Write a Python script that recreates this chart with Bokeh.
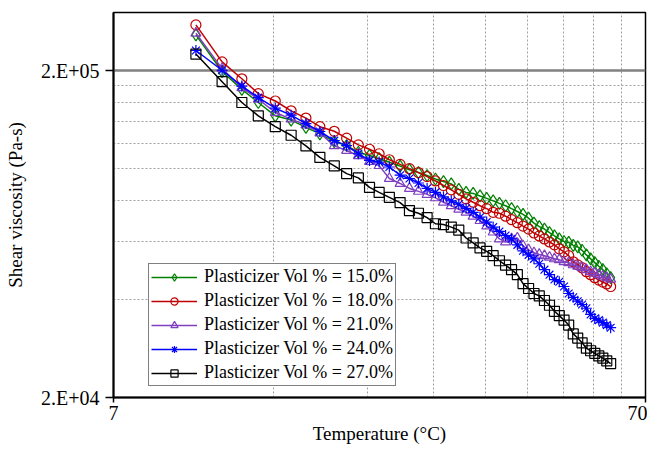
from bokeh.plotting import figure
from bokeh.models import FixedTicker, Range1d, Legend, LegendItem
from bokeh.embed import file_html
from bokeh.resources import INLINE

# ---- data ----
temperature = [10.0, 11.2, 12.2, 13.1, 14.1, 15.1, 16.1, 17.1, 18.2, 19.2, 20.2, 21.2,
               22.1, 23.1, 24.2, 25.2, 26.2, 27.2, 28.2, 29.2, 30.2, 31.2, 32.2, 33.2,
               34.2, 35.2, 36.2, 37.2, 38.2, 39.2, 40.2, 41.2, 42.2, 43.2, 44.2, 45.2,
               46.2, 47.2, 48.2, 49.2, 50.2, 51.2, 52.2, 53.2, 54.2, 55.2, 56.2, 57.2,
               58.2, 59.2, 60.2]

visc_15 = [257200, 198600, 175200, 159700, 145400, 141100, 134100, 128000, 121300, 117900,
           112500, 110000, 107500, 104900, 102000, 99500, 97500, 95500, 93200, 91500,
           90000, 86600, 84800, 84200, 82700, 81300, 79900, 78500, 77200, 75600,
           74100, 72600, 70700, 68300, 66600, 65500, 63900, 62400, 61100, 60000,
           59600, 58400, 57800, 56400, 54600, 53100, 51700, 50400, 49200, 47800, 46500]

visc_18 = [275800, 212500, 188700, 170000, 161400, 150600, 143100, 134700, 130400, 124200,
           118500, 114900, 111300, 106700, 103300, 100200, 97500, 94800, 91900, 89000,
           86300, 83600, 81000, 79100, 77200, 75600, 73700, 73200, 71700, 70000,
           68500, 66900, 65500, 63700, 62400, 61100, 59800, 58600, 57000, 55800,
           54300, 52000, 50900, 49900, 48500, 47500, 46500, 45700, 45100, 44500, 43700]

visc_21 = [260200, 202800, 177300, 163400, 148900, 142100, 136300, 128900, 117700, 113900,
           109800, 105300, 102400, 93500, 90300, 87200, 85400, 83600, 81600, 79100,
           77200, 75300, 73700, 71700, 69500, 66900, 64100, 61100, 59800, 61100,
           61500, 58200, 56600, 55400, 54800, 54300, 53700, 53100, 52800, 52000,
           51700, 50900, 50400, 49900, 49200, 48500, 48000, 47500, 47000, 46500, 46000]

visc_24 = [230300, 200400, 179300, 165300, 153400, 146100, 137700, 130200, 122100, 117900,
           111300, 106200, 105000, 101400, 95700, 93500, 90600, 87200, 84800, 82200,
           79900, 78000, 75800, 73700, 71200, 68800, 66400, 64400, 62600, 61100,
           58600, 56200, 54600, 53100, 51300, 49200, 47500, 45900, 45200, 43700,
           41600, 40500, 39400, 38500, 37500, 35900, 34900, 34500, 33900, 33300, 32700]

visc_27 = [224600, 184900, 159700, 145400, 134700, 126800, 117700, 108500, 102200, 96800,
           93900, 87800, 84800, 81900, 78900, 74600, 73200, 71000, 68000, 67600,
           66400, 65000, 61500, 59400, 57400, 56000, 54300, 52400, 50800, 49200,
           47500, 44600, 43100, 41600, 40900, 39600, 38300, 36700, 35600, 34500,
           33300, 31300, 30400, 29400, 28300, 27800, 27300, 26800, 26400, 25900, 25400]

series_labels = ["Plasticizer Vol % = 15.0%", "Plasticizer Vol % = 18.0%",
                 "Plasticizer Vol % = 21.0%", "Plasticizer Vol % = 24.0%",
                 "Plasticizer Vol % = 27.0%"]

x_major_ticks = [7, 70]
x_minor_ticks = [14, 21, 28, 35, 42, 49, 56, 63]
y_major_ticks = [20000, 200000]
y_minor_ticks = [40000, 60000, 80000, 100000, 120000, 140000, 160000, 180000]
x_tick_labels = {7: "7", 70: "70"}
y_tick_labels = {20000: "2.E+04", 200000: "2.E+05"}

# ---- styles ----
colors = ["#008000", "#C00000", "#7F3FBF", "#0000FF", "#000000"]
markers = ["diamond", "circle", "triangle", "asterisk", "square"]
sizes = [12, 10, 10, 11, 10]
FONT = "'Liberation Serif', 'DejaVu Serif', serif"

p = figure(width=647, height=447, x_axis_type="log", y_axis_type="log",
           x_range=Range1d(7, 70), y_range=Range1d(20000, 301000),
           output_backend="svg", toolbar_location=None,
           min_border_left=113, min_border_right=2, min_border_top=12, min_border_bottom=50)

p.background_fill_color = "white"
p.border_fill_color = "white"
p.outline_line_color = "black"
p.outline_line_width = 1.5

p.xaxis.ticker = FixedTicker(ticks=x_major_ticks, minor_ticks=x_minor_ticks)
p.yaxis.ticker = FixedTicker(ticks=y_major_ticks, minor_ticks=y_minor_ticks)
p.xaxis.major_label_overrides = x_tick_labels
p.yaxis.major_label_overrides = y_tick_labels

for ax in (p.xaxis, p.yaxis):
    ax.axis_line_color = "black"
    ax.axis_line_width = 2
    ax.major_tick_line_color = "black"
    ax.major_tick_line_width = 1.5
    ax.major_tick_in = 0
    ax.minor_tick_line_color = None
    ax.major_label_text_font = FONT
    ax.major_label_text_font_size = "20px"
    ax.major_label_text_color = "black"
    ax.axis_label_text_font = FONT
    ax.axis_label_text_font_style = "normal"
    ax.axis_label_text_color = "black"

p.xaxis.major_tick_out = 5
p.xaxis.major_label_standoff = 3
p.xaxis.axis_label = "Temperature (°C)"
p.xaxis.axis_label_text_font_size = "19px"
p.xaxis.axis_label_standoff = 0

p.yaxis.major_tick_out = 8
p.yaxis.major_label_standoff = 6
p.yaxis.axis_label = "Shear viscosity (Pa-s)"
p.yaxis.axis_label_text_font_size = "19px"
p.yaxis.axis_label_standoff = 12

p.xgrid.grid_line_color = None
p.xgrid.minor_grid_line_color = "#A0A0A0"
p.xgrid.minor_grid_line_dash = "2 2"
p.xgrid.minor_grid_line_width = 1
p.ygrid.grid_line_color = "#808080"
p.ygrid.grid_line_width = 2.5
p.ygrid.minor_grid_line_color = "#A0A0A0"
p.ygrid.minor_grid_line_dash = "2 2"
p.ygrid.minor_grid_line_width = 1

all_series = [visc_15, visc_18, visc_21, visc_24, visc_27]
items = []
for vals, lab, col, mk, sz in zip(all_series, series_labels, colors, markers, sizes):
    lr = p.line(temperature, vals, line_color=col, line_width=1.5)
    sr = p.scatter(temperature, vals, marker=mk, size=sz, line_color=col,
                   fill_alpha=0, line_width=1.2)
    items.append(LegendItem(label=lab, renderers=[lr, sr]))

legend = Legend(items=items, location=(35, 11))
legend.label_text_font = FONT
legend.label_text_font_size = "18px"
legend.label_text_color = "black"
legend.glyph_width = 46
legend.glyph_height = 18
legend.label_height = 18
legend.spacing = 3
legend.padding = 2
legend.margin = 0
legend.label_standoff = 7
legend.border_line_color = "black"
legend.border_line_width = 1
legend.background_fill_color = "white"
legend.background_fill_alpha = 1
p.add_layout(legend)

open("out.html", "w").write(file_html(p, INLINE))
